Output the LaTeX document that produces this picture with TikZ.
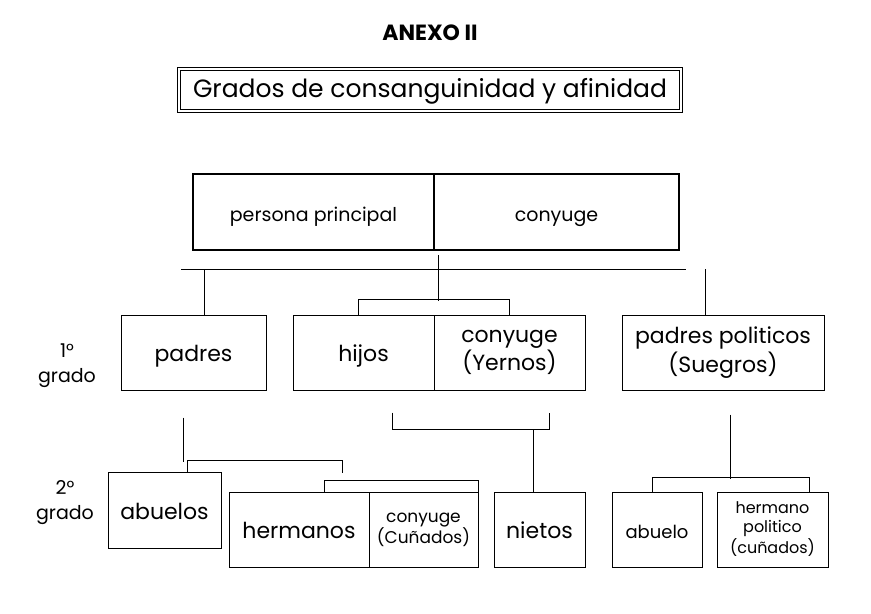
\documentclass[tikz,border=0pt]{standalone}
\usepackage{fontspec}
\setmainfont{Poppins}
\usepackage{tikz}
\usetikzlibrary{positioning, calc}

\begin{document}
\begin{tikzpicture}[
        x=0.5pt, y=-0.5pt,
        box/.style={draw, rectangle, inner sep=0pt, align=center, line width=0.5pt, font=\fontsize{11}{13}\selectfont},
        single/.style={text height=1.8ex, text depth=0.1ex},
        mainbox/.style={box, single, line width=1.1pt, minimum height=38pt, font=\fontsize{9.5}{11}\selectfont},
        smallbox/.style={box, font=\fontsize{8}{9.5}\selectfont},
        lbl/.style={align=center, font=\fontsize{9.5}{12.5}\selectfont},
        conn/.style={line width=0.5pt}
    ]
    \useasboundingbox (0,0) rectangle (871,614);

    % headings
    \node[font=\bfseries\fontsize{11}{13}\selectfont] (anexo) at (430,33) {ANEXO II};
    \node[draw, double, double distance=1.3pt, line width=0.5pt, minimum width=251pt, minimum height=21pt, inner sep=0pt,
          text height=1.5ex, text depth=0.1ex, font=\fontsize{12.5}{15}\selectfont] (titulo) at (430,90) {Grados de consanguinidad y afinidad};

    % persona principal y conyuge
    \node[mainbox, minimum width=120.5pt] (persona) at (313.5,212) {persona principal};
    \node[mainbox, minimum width=122.5pt] (conyuge) at (556.5,212) {conyuge};

    % 1 grado
    \node[box, single, minimum width=72.5pt, minimum height=37.5pt] (padres) at (193.5,352.5) {padres};
    \node[box, single, minimum width=70.5pt, minimum height=37.5pt] (hijos) at (363.5,352.5) {hijos};
    \node[box, minimum width=75.5pt, minimum height=37.5pt] (yernos) at (509.5,352.5) {conyuge\\(Yernos)};
    \node[box, minimum width=101pt, minimum height=37.5pt] (suegros) at (723,352.5) {padres politicos\\(Suegros)};

    % 2 grado
    \node[box, single, minimum width=56.5pt, minimum height=38pt] (abuelos) at (164.5,510) {abuelos};
    \node[box, single, minimum width=70pt, minimum height=37.5pt] (hermanos) at (299,529.5) {hermanos};
    \node[smallbox, minimum width=54.5pt, minimum height=37.5pt, font=\fontsize{8.5}{10.5}\selectfont] (cunados) at (423.5,529.5) {conyuge\\(Cuñados)};
    \node[box, single, minimum width=45.5pt, minimum height=37.5pt] (nietos) at (539.5,529.5) {nietos};
    \node[smallbox, single, minimum width=45pt, minimum height=37.5pt, font=\fontsize{9}{11}\selectfont] (abuelo) at (657,529.5) {abuelo};
    \node[smallbox, minimum width=55.5pt, minimum height=37.5pt] (cunpol) at (772.5,529.5) {hermano\\politico\\(cuñados)};

    % grados
    \node[lbl] (grado1) at (67,366) {1°\\grado};
    \node[lbl] (grado2) at (65,503) {2°\\grado};

    % lineas
    \coordinate (lineL) at (181,270);
    \coordinate (lineR) at (686,270);
    \draw[conn] (lineL) -- (lineR);
    \draw[conn] ([xshift=1.5pt,yshift=-2pt]persona.south east) -- ++(0,46);
    \draw[conn] ([xshift=-2.5pt]hijos.north) -- ++(0,-15) -| (yernos.north);
    \draw[conn] ([xshift=5.25pt]padres.north) -- ++(0,-45);
    \draw[conn] ([xshift=-9pt]suegros.north) -- ++(0,-45);

    \draw[conn] ([xshift=-5.25pt,yshift=-13.5pt]padres.south) -- ++(0,44);
    \draw[conn] ([xshift=11.25pt]abuelos.north) -- ++(0,-11) -- ++(155,0) -- ++(0,12);
    \draw[conn] ([xshift=12.5pt]hermanos.north) -- ++(0,-11) -| (cunados.north east);

    \draw[conn] ([xshift=14.25pt,yshift=-11pt]hijos.south) -- ++(0,17) -- ++(157,0) -- ++(0,-17);
    \draw[conn] ([xshift=-3.25pt]nietos.north) -- ++(0,-63);

    \draw[conn] ([xshift=3.75pt,yshift=-12pt]suegros.south) -- ++(0,64);
    \draw[conn] ([xshift=-2.5pt]abuelo.north) -- ++(0,-14) -| ([xshift=18.25pt]cunpol.north);

\end{tikzpicture}
\end{document}
